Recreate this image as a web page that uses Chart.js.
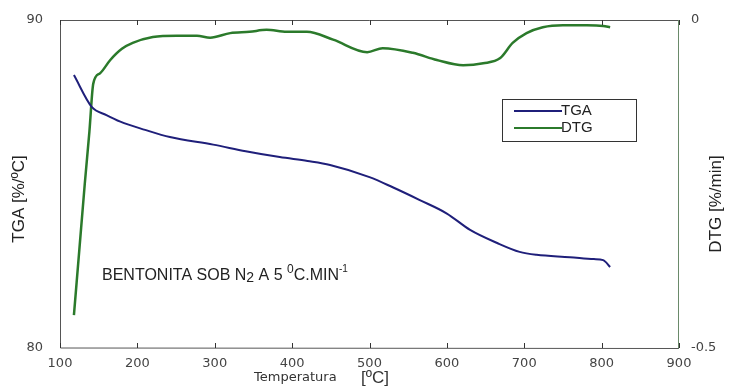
<!DOCTYPE html>
<html>
<head>
<meta charset="utf-8">
<script src="https://cdn.jsdelivr.net/npm/chart.js@4/dist/chart.umd.min.js"></script>
<style>
  html, body { margin: 0; padding: 0; background: #fff; }
  #wrap { width: 738px; height: 387px; position: relative; }
</style>
</head>
<body>
<div id="wrap"><canvas id="c" width="738" height="387"></canvas></div>
<script>
// Thermogravimetric curves for bentonite under N2 at 5 °C/min
const xTicks = [100, 200, 300, 400, 500, 600, 700, 800, 900];

const tgaTemp = [118, 141, 160, 178, 210, 242, 298, 340, 384, 420, 449, 500, 530, 565, 600, 630, 665, 694, 716, 759, 790, 802, 811];
const tgaMass = [88.32, 87.35, 87.1, 86.9, 86.65, 86.43, 86.2, 86.0, 85.82, 85.7, 85.58, 85.21, 84.9, 84.51, 84.1, 83.6, 83.2, 82.93, 82.84, 82.77, 82.71, 82.68, 82.47];

const dtgTemp = [118, 125, 132, 138, 143, 152, 165, 180, 194, 220, 251, 277, 294, 320, 345, 367, 393, 419, 453, 497, 517, 556, 587, 621, 647, 669, 685, 703, 724, 750, 781, 802, 811];
const dtgRate = [-0.45, -0.35, -0.25, -0.17, -0.097, -0.081, -0.061, -0.044, -0.035, -0.026, -0.024, -0.024, -0.027, -0.020, -0.018, -0.015, -0.018, -0.018, -0.030, -0.049, -0.043, -0.050, -0.061, -0.069, -0.066, -0.058, -0.035, -0.020, -0.011, -0.008, -0.008, -0.009, -0.011];

const tgaColor = '#1f1f7a';
const dtgColor = '#2b7a2b';
const tickFont = { family: 'DejaVu Sans', size: 13 };
const textFont = 'Liberation Sans, Arial, sans-serif';

const toPoints = (xs, ys) => xs.map((x, i) => ({ x, y: ys[i] }));

// Frame, inward ticks, legend box, axis titles and the sample note
const decorations = {
  id: 'decorations',
  afterDatasetsDraw(chart) {
    const { ctx, chartArea: a, scales } = chart;
    const sx = scales.x;
    ctx.save();
    ctx.lineWidth = 1;
    ctx.strokeStyle = '#555';
    ctx.beginPath();
    ctx.moveTo(a.left + 0.5, a.top + 0.5);
    ctx.lineTo(a.right, a.top + 0.5);
    ctx.moveTo(a.left + 0.5, a.top);
    ctx.lineTo(a.left + 0.5, a.bottom);
    ctx.lineTo(a.right, a.bottom + 0.5);
    ctx.stroke();
    ctx.strokeStyle = '#6a8a6a';
    ctx.beginPath();
    ctx.moveTo(a.right - 0.5, a.top);
    ctx.lineTo(a.right - 0.5, a.bottom + 0.5);
    ctx.stroke();

    ctx.strokeStyle = '#333';
    xTicks.forEach(v => {
      const px = Math.round(sx.getPixelForValue(v)) + 0.5;
      ctx.beginPath();
      ctx.moveTo(px, a.bottom);
      ctx.lineTo(px, a.bottom - 5);
      ctx.moveTo(px, a.top);
      ctx.lineTo(px, a.top + 5);
      ctx.stroke();
    });

    // legend
    const lx = 502, ly = 99, lw = 134, lh = 42;
    ctx.fillStyle = '#fff';
    ctx.fillRect(lx, ly, lw, lh);
    ctx.strokeStyle = '#333';
    ctx.strokeRect(lx + 0.5, ly + 0.5, lw, lh);
    ctx.lineWidth = 2;
    ctx.strokeStyle = tgaColor;
    ctx.beginPath(); ctx.moveTo(514, 111); ctx.lineTo(562, 111); ctx.stroke();
    ctx.strokeStyle = dtgColor;
    ctx.beginPath(); ctx.moveTo(514, 128); ctx.lineTo(562, 128); ctx.stroke();
    ctx.fillStyle = '#222';
    ctx.font = '15px ' + textFont;
    ctx.textBaseline = 'middle';
    ctx.textAlign = 'left';
    ctx.fillText('TGA', 561, 111);
    ctx.fillText('DTG', 561, 128);

    // axis titles
    ctx.font = '17px "Liberation Sans Narrow", ' + textFont;
    ctx.textAlign = 'center';
    ctx.save();
    ctx.translate(19, 199);
    ctx.rotate(-Math.PI / 2);
    ctx.fillText('TGA [%/ºC]', 0, 0);
    ctx.restore();
    ctx.save();
    ctx.translate(716, 204);
    ctx.rotate(-Math.PI / 2);
    ctx.fillText('DTG [%/min]', 0, 0);
    ctx.restore();

    ctx.font = '13px "DejaVu Sans", sans-serif';
    ctx.fillStyle = '#333';
    ctx.textAlign = 'left';
    ctx.fillText('Temperatura', 254, 378);
    ctx.font = '17px ' + textFont;
    ctx.fillText('[ºC]', 361, 378);

    // sample note with subscript and superscripts
    ctx.fillStyle = '#222';
    ctx.textBaseline = 'alphabetic';
    let x = 102;
    const base = 280;
    const put = (t, size, dy) => {
      ctx.font = size + 'px ' + textFont;
      ctx.fillText(t, x, base + dy);
      x += ctx.measureText(t).width;
    };
    put('BENTONITA SOB N', 16, 0);
    put('2', 14, 2);
    put(' A 5 ', 16, 0);
    put('0', 12, -7);
    put('C.MIN', 16, 0);
    put('-1', 10, -8);
    ctx.restore();
  }
};

new Chart(document.getElementById('c'), {
  type: 'line',
  data: {
    datasets: [
      {
        label: 'TGA',
        data: toPoints(tgaTemp, tgaMass),
        yAxisID: 'y',
        borderColor: tgaColor,
        borderWidth: 2,
        pointRadius: 0,
        cubicInterpolationMode: 'monotone',
        fill: false
      },
      {
        label: 'DTG',
        data: toPoints(dtgTemp, dtgRate),
        yAxisID: 'y2',
        borderColor: dtgColor,
        borderWidth: 2.5,
        pointRadius: 0,
        cubicInterpolationMode: 'monotone',
        fill: false
      }
    ]
  },
  options: {
    responsive: false,
    animation: false,
    layout: { padding: { top: 20, left: 0, right: 0, bottom: 0 } },
    plugins: { legend: { display: false }, tooltip: { enabled: false } },
    scales: {
      x: {
        type: 'linear',
        min: 100,
        max: 900,
        afterBuildTicks: s => { s.ticks = xTicks.map(v => ({ value: v })); },
        grid: { display: false },
        border: { display: false },
        ticks: { font: tickFont, color: '#444', padding: 0, maxRotation: 0 },
        afterFit: s => { s.height = 39; }
      },
      y: {
        position: 'left',
        min: 80,
        max: 90,
        afterBuildTicks: s => { s.ticks = [{ value: 80 }, { value: 90 }]; },
        grid: { display: false },
        border: { display: false },
        ticks: { font: tickFont, color: '#444', padding: 9 },
        afterFit: s => { s.width = 60; }
      },
      y2: {
        position: 'right',
        min: -0.5,
        max: 0,
        afterBuildTicks: s => { s.ticks = [{ value: -0.5 }, { value: 0 }]; },
        grid: { display: false },
        border: { display: false },
        ticks: { font: tickFont, color: '#444', padding: 4, callback: v => String(v) },
        afterFit: s => { s.width = 59; }
      }
    }
  },
  plugins: [decorations]
});
</script>
</body>
</html>
